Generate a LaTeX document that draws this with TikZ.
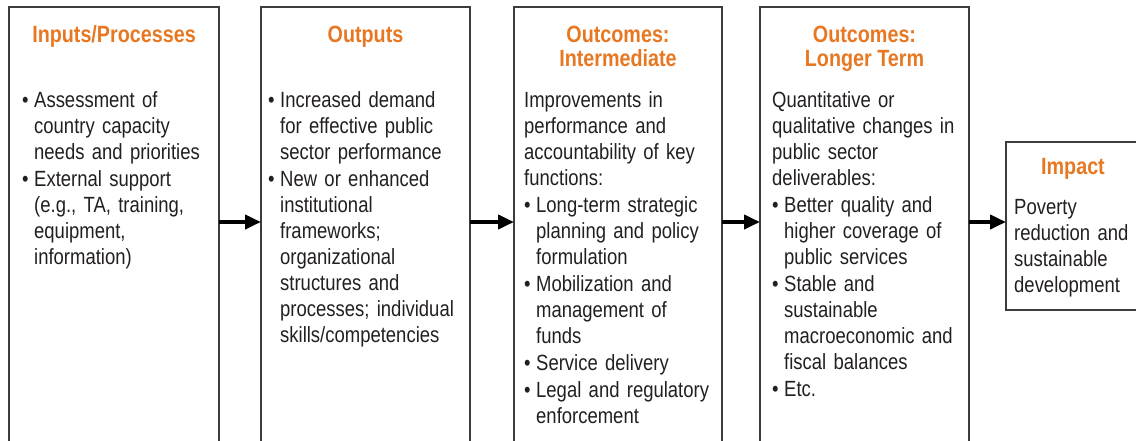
\documentclass[tikz,border=0pt]{standalone}
\usepackage{fontspec}
\setmainfont{Liberation Sans}[FakeStretch=0.84]
\usetikzlibrary{arrows.meta, positioning}
\definecolor{headorange}{HTML}{E87722}
\definecolor{boxline}{HTML}{3C3C3C}
\definecolor{darktext}{HTML}{231F20}
% first bullet of a node, and the bullets after it
\newcommand\fitem{\hangindent=12pt\hangafter=1\noindent\hbox to 12pt{\textbullet\hss}}
\newcommand\bitem{\par\fitem}

\begin{document}
\begin{tikzpicture}[
            x=1pt, y=-1pt,
            colbox/.style={rectangle, draw=boxline, line width=1.4pt, anchor=north west, inner sep=0pt, outer sep=0pt},
            headtext/.style={text=headorange, font=\fontsize{23.5}{24}\selectfont\bfseries, align=center, anchor=base, inner sep=0pt},
            bodytext/.style={text=darktext, font=\fontsize{22}{26}\selectfont\setlength\parskip{1pt}\setlength\parindent{0pt}, text width=205pt, align=left, anchor=base west, inner sep=0pt},
            flowarrow/.style={-{Triangle[length=16pt, width=14pt]}, line width=3.8pt, black},
            ]
            \useasboundingbox (0,0) rectangle (1136,440);
            \clip (0,0) rectangle (1136,440);

            % columns
            \node[colbox, minimum width=210pt, minimum height=450pt] (c1) at (9,7) {};
            \node[colbox, minimum width=209pt, minimum height=450pt] (c2) at (261,7) {};
            \node[colbox, minimum width=208pt, minimum height=450pt] (c3) at (514,7) {};
            \node[colbox, minimum width=209pt, minimum height=450pt] (c4) at (760,7) {};
            \node[colbox, minimum width=134pt, minimum height=168pt] (c5) at (1006,142) {};

            % headings
            \node[headtext] (h1) at ([yshift=-35pt]c1.north) {Inputs/Processes};
            \node[headtext] (h2) at ([yshift=-35pt]c2.north) {Outputs};
            \node[headtext] (h3) at ([yshift=-59pt]c3.north) {Outcomes:\\Intermediate};
            \node[headtext] (h4) at ([yshift=-59pt]c4.north) {Outcomes:\\Longer Term};
            \node[headtext] (h5) at ([yshift=-32pt]c5.north) {Impact};

            % texts
            \node[bodytext] (b1) at ([xshift=13pt, yshift=-100pt]c1.north west) {%
                \fitem Assessment of\newline country capacity\newline needs and priorities
                \bitem External support\newline (e.g., TA, training,\newline equipment,\newline information)\par};
            \node[bodytext] (b2) at ([xshift=7pt, yshift=-100pt]c2.north west) {%
                \fitem Increased demand\newline for effective public\newline sector performance
                \bitem New or enhanced\newline institutional\newline frameworks;\newline organizational\newline structures and\newline processes; individual\newline skills/competencies\par};
            \node[bodytext] (b3) at ([xshift=10pt, yshift=-100pt]c3.north west) {%
                Improvements in\newline performance and\newline accountability of key\newline functions:
                \bitem Long-term strategic\newline planning and policy\newline formulation
                \bitem Mobilization and\newline management of\newline funds
                \bitem Service delivery
                \bitem Legal and regulatory\newline enforcement\par};
            \node[bodytext] (b4) at ([xshift=12pt, yshift=-100pt]c4.north west) {%
                Quantitative or\newline qualitative changes in\newline public sector\newline deliverables:
                \bitem Better quality and\newline higher coverage of\newline public services
                \bitem Stable and\newline sustainable\newline macroeconomic and\newline fiscal balances
                \bitem Etc.\par};
            \node[bodytext, text width=125pt] (b5) at ([xshift=8pt, yshift=-72pt]c5.north west) {%
                Poverty\newline reduction and\newline sustainable\newline development\par};

            % flow
            \draw[flowarrow] ([yshift=10pt]c1.east) -- ([yshift=10pt]c2.west);
            \draw[flowarrow] ([yshift=10pt]c2.east) -- ([yshift=10pt]c3.west);
            \draw[flowarrow] ([yshift=10pt]c3.east) -- ([yshift=10pt]c4.west);
            \draw[flowarrow] ([yshift=10pt]c4.east) -- ([yshift=4pt]c5.west);
        \end{tikzpicture}
\end{document}
